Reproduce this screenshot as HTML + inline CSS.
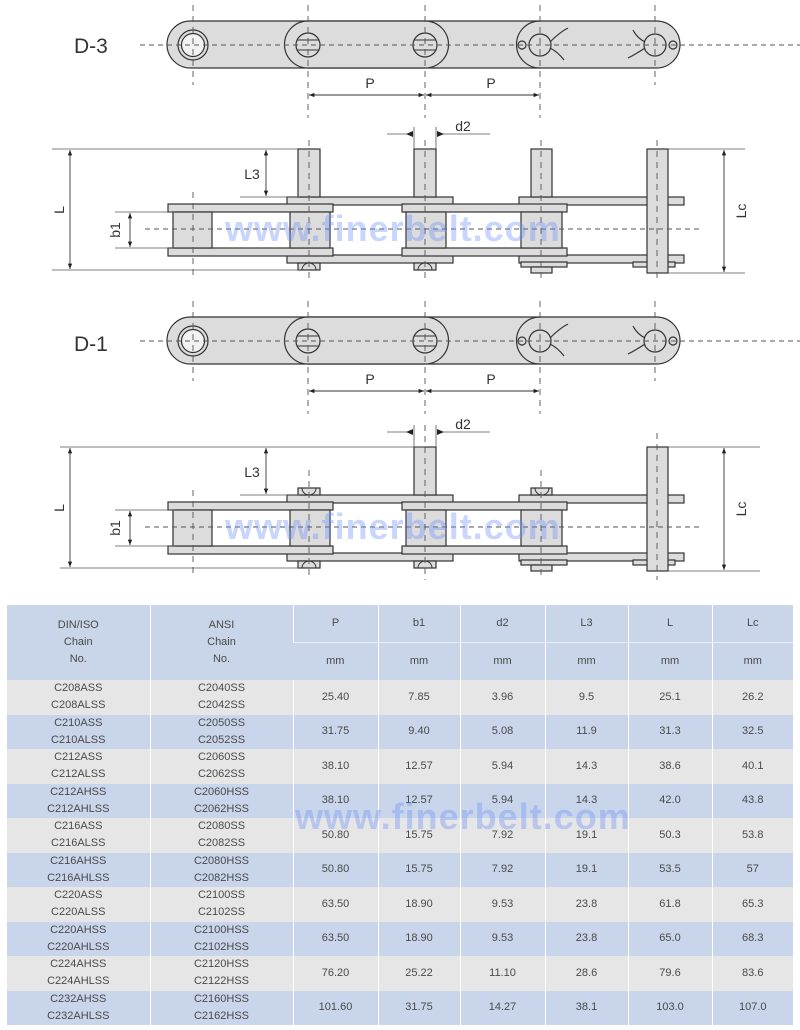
<!DOCTYPE html>
<html><head><meta charset="utf-8">
<style>
html,body{margin:0;padding:0;background:#fff;}
body{width:800px;height:1030px;position:relative;overflow:hidden;font-family:"Liberation Sans",sans-serif;}
svg{position:absolute;left:0;top:0;}
table{position:absolute;left:7px;top:605px;width:786px;border-collapse:collapse;table-layout:fixed;}
td{text-align:center;vertical-align:middle;color:#4a4a4a;font-size:11px;line-height:17px;padding:0;border-left:1px solid #fff;}
td:first-child{border-left:none;}
tr.h1 td{background:#c9d5e8;height:37px;}
tr.h2 td{background:#c9d5e8;height:37px;border-top:1px solid #e8eef7;}
tr.g td{background:#e6e6e6;height:34.5px;}
tr.b td{background:#c8d5ea;height:34.5px;}
.wm{position:absolute;font-weight:bold;font-size:36px;color:rgba(110,145,250,0.38);letter-spacing:1px;white-space:nowrap;}
</style></head><body>
<svg width="800" height="1030" viewBox="0 0 800 1030">
<defs>
<marker id="ar" viewBox="0 0 10 10" refX="10" refY="5" markerWidth="6" markerHeight="6" orient="auto-start-reverse"><path d="M0,1 L10,5 L0,9 z" fill="#222"/></marker>
<g id="top">
  <rect x="167" y="21" width="513" height="47" rx="23.5" fill="#dcdcdc" stroke="#333" stroke-width="1.2"/>
  <path d="M308,21 H425 A23.5,23.5 0 0 1 425,68 H308 A23.5,23.5 0 0 1 308,21 z" fill="#dcdcdc" stroke="#333" stroke-width="1.2"/>
  <path d="M540,21 A23.5,23.5 0 0 0 540,68" fill="none" stroke="#333" stroke-width="1.2"/>
  <circle cx="193" cy="45" r="15" fill="#dcdcdc" stroke="#333" stroke-width="1.2"/>
  <circle cx="193" cy="45" r="11.5" fill="#f2f2f2" stroke="#333" stroke-width="1.2"/>
  <g fill="#dcdcdc" stroke="#333" stroke-width="1.2">
    <circle cx="308" cy="45" r="12"/><circle cx="425" cy="45" r="12"/>
  </g>
  <g stroke="#333" stroke-width="1">
    <line x1="297" y1="40" x2="319" y2="40"/><line x1="297" y1="50" x2="319" y2="50"/>
    <line x1="414" y1="40" x2="436" y2="40"/><line x1="414" y1="50" x2="436" y2="50"/>
  </g>
  <g fill="#dcdcdc" stroke="#333" stroke-width="1.2">
    <circle cx="540" cy="45" r="11"/><circle cx="655" cy="45" r="11"/>
    <circle cx="522" cy="45" r="4"/><circle cx="673" cy="45" r="4"/>
  </g>
  <g fill="none" stroke="#333" stroke-width="1.2">
    <path d="M550,42 Q560,32 568,28"/><path d="M550,48 Q558,52 564,60"/>
    <path d="M645,42 Q637,38 633,30"/><path d="M645,48 Q636,54 628,58"/>
  </g>
  <line x1="140" y1="45" x2="800" y2="45" stroke="#555" stroke-width="0.9" stroke-dasharray="5,4"/>
  <g stroke="#555" stroke-width="0.9" stroke-dasharray="6,5">
    <line x1="193" y1="5" x2="193" y2="85"/>
    <line x1="308" y1="5" x2="308" y2="118"/>
    <line x1="425" y1="5" x2="425" y2="118"/>
    <line x1="540" y1="5" x2="540" y2="118"/>
    <line x1="655" y1="5" x2="655" y2="85"/>
  </g>
  <line x1="309" y1="95" x2="424" y2="95" stroke="#333" stroke-width="0.9" marker-start="url(#ar)" marker-end="url(#ar)"/>
  <line x1="426" y1="95" x2="539" y2="95" stroke="#333" stroke-width="0.9" marker-start="url(#ar)" marker-end="url(#ar)"/>
  <text x="370" y="88" font-size="14" fill="#333" text-anchor="middle">P</text>
  <text x="491" y="88" font-size="14" fill="#333" text-anchor="middle">P</text>
</g>
<g id="sidebase">
  <g fill="#dcdcdc" stroke="#333" stroke-width="1.2">
    <rect x="287" y="197" width="166" height="8"/>
    <rect x="519" y="197" width="165" height="8"/>
    <rect x="287" y="255" width="166" height="8"/>
    <rect x="519" y="255" width="165" height="8"/>
    <rect x="168" y="204" width="165" height="8"/>
    <rect x="402" y="204" width="165" height="8"/>
    <rect x="168" y="248" width="165" height="8"/>
    <rect x="402" y="248" width="165" height="8"/>
    <rect x="173" y="212" width="39" height="36"/>
    <rect x="290" y="212" width="40" height="36"/>
    <rect x="406" y="212" width="40" height="36"/>
    <rect x="521" y="212" width="41" height="36"/>
    <rect x="521" y="262" width="46" height="5"/>
    <rect x="531" y="267" width="21" height="6"/>
    <rect x="633" y="262" width="42" height="5"/>
  </g>
  <g stroke="#555" stroke-width="0.8">
    <line x1="115" y1="212" x2="175" y2="212"/>
    <line x1="115" y1="248" x2="175" y2="248"/>
  </g>
  <line x1="130" y1="213" x2="130" y2="247" stroke="#333" stroke-width="0.9" marker-start="url(#ar)" marker-end="url(#ar)"/>
  <text transform="translate(120,230) rotate(-90)" font-size="14" fill="#333" text-anchor="middle">b1</text>
  <text transform="translate(64,210) rotate(-90)" font-size="14" fill="#333" text-anchor="middle">L</text>
  <text transform="translate(746,211) rotate(-90)" font-size="14" fill="#333" text-anchor="middle">Lc</text>
  <text x="252" y="179" font-size="14" fill="#333" text-anchor="middle">L3</text>
</g>
</defs>

<text x="74" y="53" font-size="21" fill="#333">D-3</text>
<use href="#top"/>
<text x="74" y="351" font-size="21" fill="#333">D-1</text>
<use href="#top" transform="translate(0,296)"/>

<g>
  <use href="#sidebase"/>
  <g fill="#dcdcdc" stroke="#333" stroke-width="1.2">
    <rect x="298" y="149" width="22" height="48"/>
    <rect x="414" y="149" width="22" height="48"/>
    <rect x="531" y="149" width="21" height="48"/>
    <rect x="647" y="149" width="21" height="124"/>
    <rect x="298" y="263" width="22" height="7"/>
    <rect x="414" y="263" width="22" height="7"/>
  </g>
  <g fill="none" stroke="#333" stroke-width="1"><path d="M302,270 A7,7 0 0 1 316,270"/><path d="M418,270 A7,7 0 0 1 432,270"/></g>
  <line x1="145" y1="229" x2="700" y2="229" stroke="#555" stroke-width="0.9" stroke-dasharray="5,4"/>
  <g stroke="#555" stroke-width="0.9" stroke-dasharray="6,5">
    <line x1="193" y1="192" x2="193" y2="278"/>
    <line x1="309" y1="140" x2="309" y2="278"/>
    <line x1="425" y1="140" x2="425" y2="278"/>
    <line x1="541" y1="140" x2="541" y2="278"/>
    <line x1="657" y1="140" x2="657" y2="278"/>
  </g>
  <g stroke="#555" stroke-width="0.8">
    <line x1="52" y1="149" x2="298" y2="149"/>
    <line x1="668" y1="149" x2="745" y2="149"/>
    <line x1="52" y1="270" x2="300" y2="270"/>
    <line x1="668" y1="273" x2="745" y2="273"/>
    <line x1="240" y1="197" x2="300" y2="197"/>
    <line x1="414" y1="127" x2="414" y2="149"/>
    <line x1="436" y1="127" x2="436" y2="149"/>
    <line x1="387" y1="134" x2="412" y2="134"/>
    <line x1="438" y1="134" x2="490" y2="134"/>
  </g>
  <line x1="70" y1="150" x2="70" y2="269" stroke="#333" stroke-width="0.9" marker-start="url(#ar)" marker-end="url(#ar)"/>
  <line x1="724" y1="150" x2="724" y2="272" stroke="#333" stroke-width="0.9" marker-start="url(#ar)" marker-end="url(#ar)"/>
  <line x1="266" y1="150" x2="266" y2="196" stroke="#333" stroke-width="0.9" marker-start="url(#ar)" marker-end="url(#ar)"/>
  <path d="M406,134 L413,131 L413,137z M444,134 L437,131 L437,137z" fill="#222"/>
  <text x="463" y="131" font-size="14" fill="#333" text-anchor="middle">d2</text>
</g>

<g transform="translate(0,298)">
  <use href="#sidebase"/>
  <g fill="#dcdcdc" stroke="#333" stroke-width="1.2">
    <rect x="414" y="149" width="22" height="48"/>
    <rect x="647" y="149" width="21" height="124"/>
    <rect x="298" y="190" width="22" height="7"/>
    <rect x="531" y="190" width="21" height="7"/>
    <rect x="298" y="263" width="22" height="7"/>
    <rect x="414" y="263" width="22" height="7"/>
  </g>
  <g fill="none" stroke="#333" stroke-width="1">
    <path d="M302,190 A7,7 0 0 0 316,190"/><path d="M535,190 A7,7 0 0 0 549,190"/>
    <path d="M302,270 A7,7 0 0 1 316,270"/><path d="M418,270 A7,7 0 0 1 432,270"/>
  </g>
  <line x1="145" y1="229" x2="700" y2="229" stroke="#555" stroke-width="0.9" stroke-dasharray="5,4"/>
  <g stroke="#555" stroke-width="0.9" stroke-dasharray="6,5">
    <line x1="193" y1="192" x2="193" y2="278"/>
    <line x1="309" y1="172" x2="309" y2="282"/>
    <line x1="425" y1="127" x2="425" y2="282"/>
    <line x1="541" y1="172" x2="541" y2="282"/>
    <line x1="657" y1="135" x2="657" y2="282"/>
  </g>
  <g stroke="#555" stroke-width="0.8">
    <line x1="60" y1="149" x2="425" y2="149"/>
    <line x1="668" y1="149" x2="760" y2="149"/>
    <line x1="60" y1="270" x2="300" y2="270"/>
    <line x1="668" y1="273" x2="760" y2="273"/>
    <line x1="240" y1="197" x2="300" y2="197"/>
    <line x1="414" y1="127" x2="414" y2="149"/>
    <line x1="436" y1="127" x2="436" y2="149"/>
    <line x1="387" y1="134" x2="412" y2="134"/>
    <line x1="438" y1="134" x2="490" y2="134"/>
  </g>
  <line x1="70" y1="150" x2="70" y2="269" stroke="#333" stroke-width="0.9" marker-start="url(#ar)" marker-end="url(#ar)"/>
  <line x1="724" y1="150" x2="724" y2="272" stroke="#333" stroke-width="0.9" marker-start="url(#ar)" marker-end="url(#ar)"/>
  <line x1="266" y1="150" x2="266" y2="196" stroke="#333" stroke-width="0.9" marker-start="url(#ar)" marker-end="url(#ar)"/>
  <path d="M406,134 L413,131 L413,137z M444,134 L437,131 L437,137z" fill="#222"/>
  <text x="463" y="131" font-size="14" fill="#333" text-anchor="middle">d2</text>
</g>
</svg>

<table>
<colgroup><col style="width:143px"><col style="width:143px"><col style="width:85px"><col style="width:82px"><col style="width:85px"><col style="width:83px"><col style="width:84px"><col style="width:81px"></colgroup>
<tr class="h1"><td rowspan="2">DIN/ISO<br>Chain<br>No.</td><td rowspan="2">ANSI<br>Chain<br>No.</td><td>P</td><td>b1</td><td>d2</td><td>L3</td><td>L</td><td>Lc</td></tr>
<tr class="h2"><td>mm</td><td>mm</td><td>mm</td><td>mm</td><td>mm</td><td>mm</td></tr>
<tr class="g"><td>C208ASS<br>C208ALSS</td><td>C2040SS<br>C2042SS</td><td>25.40</td><td>7.85</td><td>3.96</td><td>9.5</td><td>25.1</td><td>26.2</td></tr>
<tr class="b"><td>C210ASS<br>C210ALSS</td><td>C2050SS<br>C2052SS</td><td>31.75</td><td>9.40</td><td>5.08</td><td>11.9</td><td>31.3</td><td>32.5</td></tr>
<tr class="g"><td>C212ASS<br>C212ALSS</td><td>C2060SS<br>C2062SS</td><td>38.10</td><td>12.57</td><td>5.94</td><td>14.3</td><td>38.6</td><td>40.1</td></tr>
<tr class="b"><td>C212AHSS<br>C212AHLSS</td><td>C2060HSS<br>C2062HSS</td><td>38.10</td><td>12.57</td><td>5.94</td><td>14.3</td><td>42.0</td><td>43.8</td></tr>
<tr class="g"><td>C216ASS<br>C216ALSS</td><td>C2080SS<br>C2082SS</td><td>50.80</td><td>15.75</td><td>7.92</td><td>19.1</td><td>50.3</td><td>53.8</td></tr>
<tr class="b"><td>C216AHSS<br>C216AHLSS</td><td>C2080HSS<br>C2082HSS</td><td>50.80</td><td>15.75</td><td>7.92</td><td>19.1</td><td>53.5</td><td>57</td></tr>
<tr class="g"><td>C220ASS<br>C220ALSS</td><td>C2100SS<br>C2102SS</td><td>63.50</td><td>18.90</td><td>9.53</td><td>23.8</td><td>61.8</td><td>65.3</td></tr>
<tr class="b"><td>C220AHSS<br>C220AHLSS</td><td>C2100HSS<br>C2102HSS</td><td>63.50</td><td>18.90</td><td>9.53</td><td>23.8</td><td>65.0</td><td>68.3</td></tr>
<tr class="g"><td>C224AHSS<br>C224AHLSS</td><td>C2120HSS<br>C2122HSS</td><td>76.20</td><td>25.22</td><td>11.10</td><td>28.6</td><td>79.6</td><td>83.6</td></tr>
<tr class="b"><td>C232AHSS<br>C232AHLSS</td><td>C2160HSS<br>C2162HSS</td><td>101.60</td><td>31.75</td><td>14.27</td><td>38.1</td><td>103.0</td><td>107.0</td></tr>
</table>

<div class="wm" style="left:225px;top:208px;">www.finerbelt.com</div>
<div class="wm" style="left:225px;top:506px;">www.finerbelt.com</div>
<div class="wm" style="left:295px;top:796px;">www.finerbelt.com</div>
</body></html>
